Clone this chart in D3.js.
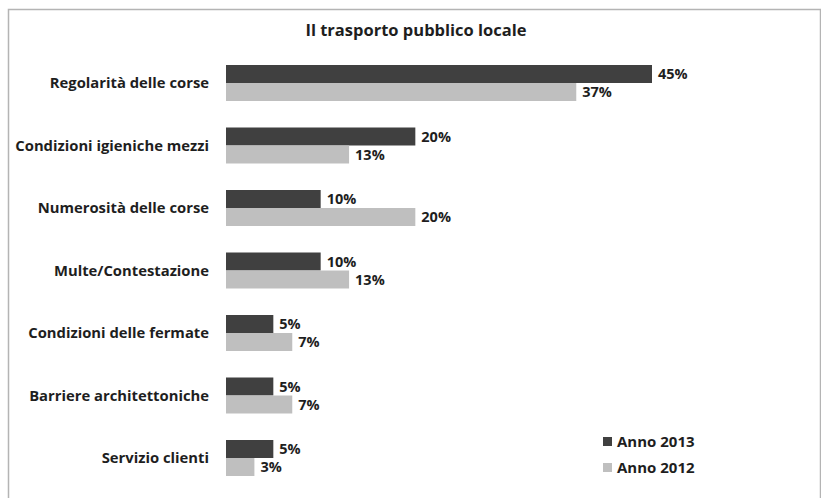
<!DOCTYPE html>
<html>
<head>
<meta charset="utf-8">
<script src="https://cdn.jsdelivr.net/npm/d3@7"></script>
<style>
  body { margin: 0; background: #fff; }
  text { font-family: "Open Sans", sans-serif; font-weight: bold; fill: #1e1e1e; }
</style>
</head>
<body>
<div id="chart"></div>
<script>
// data
var categories = ['Regolarità delle corse', 'Condizioni igieniche mezzi', 'Numerosità delle corse',
  'Multe/Contestazione', 'Condizioni delle fermate', 'Barriere architettoniche', 'Servizio clienti'];
var anno2013 = [45, 20, 10, 10, 5, 5, 5];
var anno2012 = [37, 13, 20, 13, 7, 7, 3];
var seriesNames = ['Anno 2013', 'Anno 2012'];
var seriesColors = ['#404040', '#bfbfbf'];
var title = 'Il trasporto pubblico locale';

var width = 821, height = 498;

var svg = d3.select('#chart')
  .append('svg')
    .attr('width', width)
    .attr('height', height);

// outer frame
svg.append('rect')
  .attr('x', 8.5).attr('y', 9.5)
  .attr('width', 812).attr('height', 495)
  .attr('fill', 'none')
  .attr('stroke', '#b4b4b4')
  .attr('stroke-width', 1.5);

svg.append('text')
  .attr('x', 416).attr('y', 36)
  .attr('text-anchor', 'middle')
  .style('font-size', '16.5px')
  .text(title);

var x = d3.scaleLinear().domain([0, 45]).range([226, 652]);

var y = d3.scaleBand()
  .domain(categories)
  .range([51.75, 489.25])
  .paddingInner(0.424)
  .paddingOuter(0.212);

var sub = d3.scaleBand()
  .domain(seriesNames)
  .range([0, y.bandwidth()]);

var rows = categories.map(function (c, i) {
  return { cat: c, vals: [anno2013[i], anno2012[i]] };
});

var g = svg.selectAll('g.row')
  .data(rows)
  .enter()
  .append('g')
    .attr('class', 'row')
    .attr('transform', function (d) { return 'translate(0,' + y(d.cat) + ')'; });

g.append('text')
  .attr('x', 209)
  .attr('y', y.bandwidth() / 2)
  .attr('dy', '0.35em')
  .attr('text-anchor', 'end')
  .style('font-size', '14.8px')
  .text(function (d) { return d.cat; });

var bars = g.selectAll('g.bar')
  .data(function (d) {
    return d.vals.map(function (v, j) { return { name: seriesNames[j], v: v, j: j }; });
  })
  .enter()
  .append('g');

bars.append('rect')
  .attr('x', x(0))
  .attr('y', function (d) { return sub(d.name); })
  .attr('width', function (d) { return x(d.v) - x(0); })
  .attr('height', sub.bandwidth())
  .attr('fill', function (d) { return seriesColors[d.j]; });

bars.append('text')
  .attr('x', function (d) { return x(d.v) + 6; })
  .attr('y', function (d) { return sub(d.name) + sub.bandwidth() / 2; })
  .attr('dy', '0.35em')
  .style('font-size', '14.5px')
  .text(function (d) { return d.v + '%'; });

// legend
var legend = svg.selectAll('g.legend')
  .data(seriesNames)
  .enter()
  .append('g')
    .attr('transform', function (d, i) { return 'translate(603,' + (437 + i * 26) + ')'; });

legend.append('rect')
  .attr('width', 9).attr('height', 9)
  .attr('fill', function (d, i) { return seriesColors[i]; });

legend.append('text')
  .attr('x', 14).attr('y', 4.5)
  .attr('dy', '0.35em')
  .style('font-size', '15px')
  .text(function (d) { return d; });
</script>
</body>
</html>
